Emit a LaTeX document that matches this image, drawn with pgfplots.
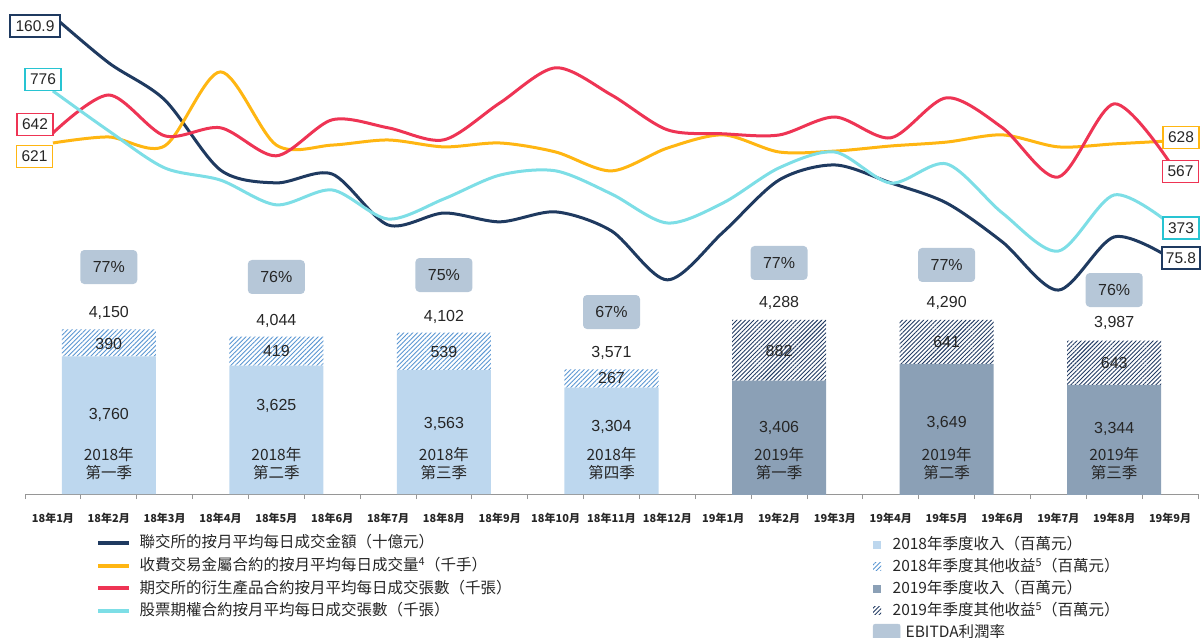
\documentclass[border=0pt]{standalone}
\usepackage{fontspec}
\setmainfont{Liberation Sans}
\newfontfamily\cjk{Noto Sans CJK TC}
\usepackage{pgfplots}
\pgfplotsset{compat=1.18}
\usepackage{pgfplotstable}
\usetikzlibrary{patterns.meta}

\definecolor{navy}{RGB}{31,58,96}
\definecolor{gold}{RGB}{255,182,18}
\definecolor{rose}{RGB}{238,52,84}
\definecolor{aqua}{RGB}{125,222,230}
\definecolor{aquabox}{RGB}{40,196,210}
\definecolor{bareight}{RGB}{189,215,238}
\definecolor{hatcheight}{RGB}{90,150,210}
\definecolor{barnine}{RGB}{139,160,182}
\definecolor{hatchnine}{RGB}{35,60,100}
\definecolor{ebitda}{RGB}{182,199,216}
\definecolor{axisgray}{RGB}{150,150,150}
\definecolor{labeltext}{RGB}{38,38,38}

\pgfplotstableread{
k adt lme fut opt
0 160.9 621 642 776
1 144.4 641 737 655
2 131.4 611 635 543
3 106.7 858 655 506
4 102.2 614 585 431
5 105.3 614 675 476
6 87.4 631 655 388
7 91.6 608 625 449
8 88.5 621 717 521
9 92.0 591 805 534
10 85.3 528 737 464
11 68.1 604 650 376
12 84.9 648 640 437
13 103.2 591 637 543
14 108.5 594 682 591
15 102.2 611 630 497
16 95.1 624 730 555
17 81.4 648 655 406
18 64.5 608 532 291
19 83.2 618 715 461
20 75.8 628 567 373
}\linedata

\pgfplotstableread{
x s18 h18 s19 h19
1 3760 390 0 0
4 3625 419 0 0
7 3563 539 0 0
10 3304 267 0 0
13 0 0 3406 882
16 0 0 3649 641
19 0 0 3344 643
}\bardata

\pgfplotsset{
  base/.style={scale only axis, width=1173pt, height=490pt, at={(25pt,143pt)}, anchor=south west, xmin=-0.5, xmax=20.5},
  lineaxis/.style={base, hide axis, clip=false},
  sqleg/.style={legend image code/.code={\path[##1,draw=none] (0pt,-4pt) rectangle (8pt,4pt);}},
  ln/.style={line width=3pt, smooth, tension=0.5, no markers},
}

\tikzset{
  num/.style={font=\fontsize{16}{19}\selectfont, text=labeltext, inner sep=0pt},
  yr/.style={font=\cjk\fontsize{15.5}{18}\selectfont, text=labeltext, inner sep=0pt},
  eb/.style={fill=ebitda, rounded corners=4pt, minimum width=57pt, minimum height=34pt, inner sep=0pt, font=\fontsize{16}{19}\selectfont, text=labeltext},
  endlab/.style={draw=#1, line width=1.8pt, fill=white, minimum height=22pt, inner sep=2.5pt, font=\fontsize{15.5}{18}\selectfont, text=labeltext},
}

\begin{document}
\begin{tikzpicture}
\useasboundingbox (0pt,0pt) rectangle (1201pt,637pt);

% ---------------- bars ----------------
\begin{axis}[base, ymin=1758, ymax=8880, ybar stacked, bar width=1.683,
  axis x line*=bottom, axis y line=none,
  axis line style={axisgray, line width=1pt},
  xtick={0,...,20},
  xticklabels={18年1月,18年2月,18年3月,18年4月,18年5月,18年6月,18年7月,18年8月,18年9月,18年10月,18年11月,18年12月,19年1月,19年2月,19年3月,19年4月,19年5月,19年6月,19年7月,19年8月,19年9月},
  major tick length=0pt,
  minor xtick={-0.5,0.5,...,20.5}, minor tick length=5pt, tick align=outside,
  minor tick style={axisgray, line width=1pt},
  xticklabel style={font=\cjk\bfseries\fontsize{11}{13}\selectfont, text=labeltext, yshift=-16pt},
  ytick=\empty,
  legend cell align=left,
  legend style={at={(axis description cs:0.7229,-0.083)}, anchor=north west, draw=none, fill=none,
    font=\cjk\fontsize{15.5}{18}\selectfont, text=labeltext, row sep=2.5pt, inner sep=0pt,
    nodes={inner sep=1.5pt, text height=13pt, text depth=3.5pt},
    /tikz/every odd column/.append style={column sep=10pt}},
]
\addplot[sqleg, fill=bareight, draw=none] table[x=x,y=s18]{\bardata};
\addplot[sqleg, draw=none, pattern={Lines[angle=45,distance=3.2pt,line width=0.9pt]}, pattern color=hatcheight] table[x=x,y=h18]{\bardata};
\addplot[sqleg, fill=barnine, draw=none] table[x=x,y=s19]{\bardata};
\addplot[sqleg, draw=none, pattern={Lines[angle=45,distance=3pt,line width=0.9pt]}, pattern color=hatchnine] table[x=x,y=h19]{\bardata};
\addlegendimage{legend image code/.code={\fill[overlay, ebitda, rounded corners=2pt] (0pt,-8.5pt) rectangle (27pt,8.5pt);}}
\legend{2018年季度收入（百萬元）, 2018年季度其他收益\textsuperscript{5}（百萬元）, 2019年季度收入（百萬元）, 2019年季度其他收益\textsuperscript{5}（百萬元）, \hspace{13pt}EBITDA利潤率}
\end{axis}

% ---------------- bar annotations ----------------
\begin{axis}[base, ymin=1758, ymax=8880, hide axis, clip=false]
% totals
\node[num] at (axis cs:1,4389) {4,150};
\node[num] at (axis cs:4,4273) {4,044};
\node[num] at (axis cs:7,4331) {4,102};
\node[num] at (axis cs:10,3807) {3,571};
\node[num] at (axis cs:13,4534) {4,288};
\node[num] at (axis cs:16,4534) {4,290};
\node[num] at (axis cs:19,4244) {3,987};
% other income
\node[num] at (axis cs:1,3938) {390};
\node[num] at (axis cs:4,3837) {419};
\node[num] at (axis cs:7,3822) {539};
\node[num] at (axis cs:10,3444) {267};
\node[num] at (axis cs:13,3837) {882};
\node[num] at (axis cs:16,3967) {641};
\node[num] at (axis cs:19,3662) {643};
% revenue
\node[num] at (axis cs:1,2906) {3,760};
\node[num] at (axis cs:4,3037) {3,625};
\node[num] at (axis cs:7,2775) {3,563};
\node[num] at (axis cs:10,2732) {3,304};
\node[num] at (axis cs:13,2717) {3,406};
\node[num] at (axis cs:16,2790) {3,649};
\node[num] at (axis cs:19,2703) {3,344};
% quarter names
\node[yr] at (axis cs:1,2325) {2018年};
\node[yr] at (axis cs:4,2325) {2018年};
\node[yr] at (axis cs:7,2325) {2018年};
\node[yr] at (axis cs:10,2325) {2018年};
\node[yr] at (axis cs:13,2325) {2019年};
\node[yr] at (axis cs:16,2325) {2019年};
\node[yr] at (axis cs:19,2325) {2019年};
\node[yr] at (axis cs:1,2063) {第一季};
\node[yr] at (axis cs:4,2063) {第二季};
\node[yr] at (axis cs:7,2063) {第三季};
\node[yr] at (axis cs:10,2063) {第四季};
\node[yr] at (axis cs:13,2063) {第一季};
\node[yr] at (axis cs:16,2063) {第二季};
\node[yr] at (axis cs:19,2063) {第三季};
% EBITDA margin
\node[eb] at (axis cs:1,5057) {77\%};
\node[eb] at (axis cs:4,4912) {76\%};
\node[eb] at (axis cs:7,4941) {75\%};
\node[eb] at (axis cs:10,4403) {67\%};
\node[eb] at (axis cs:13,5116) {77\%};
\node[eb] at (axis cs:16,5087) {77\%};
\node[eb] at (axis cs:19,4723) {76\%};
\end{axis}

% ---------------- lines ----------------
\begin{axis}[lineaxis, ymin=-7.2, ymax=165.1]
\addplot[ln, color=navy] table[x=k,y=adt]{\linedata};
\end{axis}
\begin{axis}[lineaxis, ymin=-549, ymax=1084.3]
\addplot[ln, color=gold] table[x=k,y=lme]{\linedata};
\end{axis}
\begin{axis}[lineaxis, ymin=-260.5, ymax=964.5]
\addplot[ln, color=rose] table[x=k,y=fut]{\linedata};
\end{axis}
\begin{axis}[lineaxis, ymin=-445.2, ymax=1039.6,
  legend cell align=left,
  legend image code/.code={\draw[#1, line width=4pt] (0pt,0pt) -- (31pt,0pt);},
  legend style={at={(axis description cs:0.0605,-0.0796)}, anchor=north west, draw=none, fill=none,
    font=\cjk\fontsize{15.5}{18}\selectfont, text=labeltext, row sep=3.2pt, inner sep=0pt,
    nodes={inner sep=1.5pt, text height=13pt, text depth=3.5pt},
    /tikz/every odd column/.append style={column sep=7pt}},
]
\addlegendimage{navy, line width=4pt}
\addlegendimage{gold, line width=4pt}
\addlegendimage{rose, line width=4pt}
\addplot[ln, color=aqua] table[x=k,y=opt]{\linedata};
\legend{聯交所的按月平均每日成交金額（十億元）, 收費交易金屬合約的按月平均每日成交量\textsuperscript{4}（千手）, 期交所的衍生產品合約按月平均每日成交張數（千張）, 股票期權合約按月平均每日成交張數（千張）}
\end{axis}

% end labels
\node[endlab=navy, minimum width=50pt] at (35pt,611pt) {160.9};
\node[endlab=aquabox, minimum width=36pt] at (43pt,557.5pt) {776};
\node[endlab=rose, minimum width=36pt] at (35pt,512.5pt) {642};
\node[endlab=gold, minimum width=36pt] at (34.5pt,480.5pt) {621};
\node[endlab=gold, minimum width=36pt] at (1181pt,499.5pt) {628};
\node[endlab=rose, minimum width=36pt] at (1180.5pt,465.5pt) {567};
\node[endlab=aquabox, minimum width=36pt] at (1181pt,409pt) {373};
\node[endlab=navy, minimum width=38pt] at (1181pt,379pt) {75.8};
\end{tikzpicture}
\end{document}
